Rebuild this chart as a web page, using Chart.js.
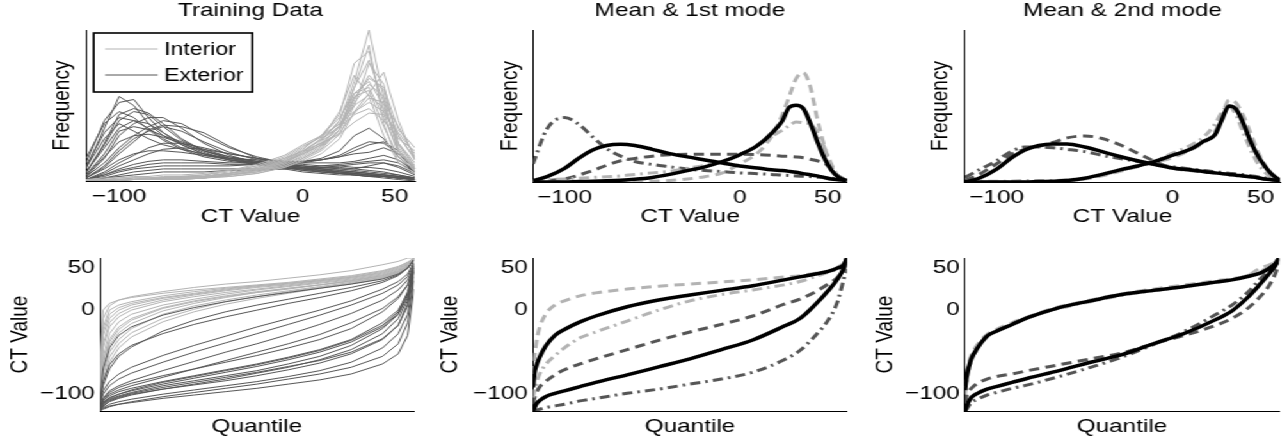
<!DOCTYPE html>
<html>
<head>
<meta charset="utf-8">
<script src="https://cdn.jsdelivr.net/npm/chart.js@4.4.0/dist/chart.umd.min.js"></script>
<style>
  html, body { margin: 0; padding: 0; background: #fff; overflow: hidden; }
  /* the original figure is stretched horizontally, so the whole page is drawn narrow and scaled */
  #figure { position: absolute; left: 0; top: 0; width: 1006px; height: 442px; transform: scaleX(1.28); transform-origin: 0 0; }
  #figure canvas { position: absolute; }
</style>
</head>
<body>
<div id="figure">
  <canvas id="trainHist" width="330" height="234" style="left:0;top:1px"></canvas>
  <canvas id="mode1Hist" width="333" height="234" style="left:335px;top:1px"></canvas>
  <canvas id="mode2Hist" width="333" height="234" style="left:673px;top:1px"></canvas>
  <canvas id="trainQuant" width="330" height="207" style="left:0;top:235px"></canvas>
  <canvas id="mode1Quant" width="333" height="207" style="left:335px;top:235px"></canvas>
  <canvas id="mode2Quant" width="333" height="207" style="left:673px;top:235px"></canvas>
</div>
<script>
// ---- data -------------------------------------------------------------
const ctTicks = [-100, 0, 50];
const legendLabels = ['Interior', 'Exterior'];

// training histograms (CT value bins, frequency in % of axis height)
const histBins = [-118, -108, -100, -92, -84, -76, -66, -54, -40, -25, -10, 0, 10, 20, 28, 36, 44, 52, 61];
const interiorHist = [
  [0, 0, 1, 1, 1, 1, 2, 2, 4, 7, 12, 18, 26, 40, 66, 100, 55, 20, 8],
  [0, 1, 1, 1, 2, 2, 2, 3, 5, 8, 14, 21, 30, 44, 78, 86, 45, 18, 6],
  [0, 0, 0, 1, 1, 1, 1, 2, 4, 6, 11, 16, 23, 34, 54, 70, 60, 25, 10],
  [0, 1, 1, 1, 1, 2, 2, 3, 5, 9, 15, 22, 30, 42, 58, 62, 42, 20, 9],
  [1, 1, 2, 2, 2, 3, 3, 4, 6, 10, 16, 23, 29, 38, 50, 57, 48, 25, 12],
  [0, 0, 1, 1, 1, 1, 2, 2, 4, 6, 10, 15, 21, 34, 62, 90, 38, 12, 5],
  [0, 1, 1, 1, 2, 2, 3, 4, 7, 11, 17, 24, 30, 38, 46, 52, 46, 30, 15],
  [0, 0, 1, 1, 1, 2, 2, 3, 5, 8, 13, 19, 25, 37, 58, 66, 50, 22, 8],
  [1, 2, 2, 3, 3, 4, 4, 5, 7, 10, 15, 20, 25, 31, 39, 45, 44, 32, 18],
  [0, 0, 0, 1, 1, 1, 1, 2, 3, 5, 9, 14, 20, 31, 50, 78, 64, 24, 9],
  [0, 1, 1, 1, 1, 2, 2, 3, 5, 8, 12, 18, 24, 36, 56, 60, 36, 16, 7],
  [0, 0, 1, 1, 1, 1, 2, 2, 4, 7, 12, 19, 28, 46, 70, 56, 30, 12, 5],
  [1, 1, 1, 2, 2, 2, 3, 3, 5, 8, 13, 20, 28, 36, 44, 48, 40, 28, 20],
  [0, 0, 1, 1, 1, 1, 2, 2, 4, 6, 10, 15, 22, 34, 52, 64, 56, 30, 14],
  [0, 1, 1, 1, 1, 2, 2, 3, 5, 8, 13, 18, 24, 32, 45, 55, 52, 36, 16],
  [0, 0, 0, 1, 1, 1, 1, 2, 3, 5, 9, 13, 18, 28, 46, 58, 72, 40, 14],
  [0, 0, 1, 1, 1, 2, 2, 3, 5, 9, 14, 20, 27, 40, 62, 80, 52, 20, 7],
  [1, 1, 1, 2, 2, 2, 3, 3, 4, 7, 11, 17, 24, 36, 55, 68, 62, 34, 22]
];
const exteriorHist = [
  [8, 35, 56, 50, 38, 30, 24, 18, 14, 11, 8, 6, 5, 4, 4, 3, 3, 2, 1],
  [12, 40, 52, 54, 42, 32, 25, 19, 14, 11, 9, 7, 6, 5, 4, 3, 3, 2, 1],
  [5, 25, 44, 48, 45, 38, 28, 20, 15, 12, 9, 7, 6, 5, 5, 4, 3, 2, 1],
  [3, 15, 30, 38, 42, 42, 35, 25, 17, 12, 9, 8, 7, 6, 6, 5, 4, 3, 2],
  [10, 32, 42, 40, 35, 28, 22, 17, 14, 12, 10, 9, 8, 7, 6, 5, 4, 3, 1],
  [2, 10, 20, 28, 33, 36, 33, 26, 19, 14, 10, 8, 7, 6, 5, 4, 4, 3, 2],
  [15, 38, 46, 42, 34, 27, 21, 16, 13, 11, 9, 8, 7, 6, 5, 4, 3, 2, 1],
  [4, 18, 33, 36, 34, 30, 26, 21, 16, 13, 11, 10, 9, 9, 8, 7, 6, 4, 2],
  [1, 6, 12, 17, 22, 25, 25, 22, 18, 15, 12, 11, 10, 10, 9, 9, 8, 6, 3],
  [6, 22, 35, 40, 38, 32, 24, 18, 14, 12, 10, 9, 8, 8, 8, 10, 12, 9, 4],
  [2, 8, 14, 18, 20, 20, 19, 17, 15, 14, 13, 13, 14, 17, 22, 26, 25, 18, 8],
  [1, 4, 8, 11, 13, 14, 14, 13, 12, 12, 12, 13, 15, 20, 30, 35, 28, 16, 6],
  [1, 3, 6, 8, 9, 10, 10, 10, 10, 11, 12, 13, 14, 16, 20, 24, 26, 20, 8],
  [0, 2, 4, 6, 7, 8, 8, 8, 8, 8, 8, 9, 10, 11, 12, 13, 14, 12, 6],
  [3, 12, 22, 30, 36, 40, 38, 30, 22, 16, 12, 10, 8, 6, 5, 4, 3, 2, 1],
  [9, 28, 38, 33, 28, 24, 21, 18, 15, 13, 11, 9, 7, 5, 4, 3, 2, 1, 0],
  [1, 5, 10, 14, 18, 21, 22, 21, 18, 15, 13, 12, 12, 12, 13, 15, 17, 14, 6],
  [0, 2, 3, 4, 5, 6, 6, 6, 7, 7, 8, 8, 9, 10, 11, 12, 12, 10, 5],
  [4, 16, 26, 30, 31, 29, 25, 20, 16, 13, 11, 10, 9, 8, 7, 6, 5, 4, 2],
  [2, 9, 18, 26, 34, 37, 36, 32, 23, 15, 11, 9, 8, 7, 6, 5, 4, 3, 1],
  [6, 24, 40, 46, 44, 36, 27, 20, 15, 12, 10, 8, 6, 5, 4, 4, 3, 2, 1],
  [1, 4, 7, 9, 11, 12, 12, 12, 11, 11, 11, 12, 14, 16, 18, 19, 22, 18, 8]
];

// mean and mode histograms
const modeBins = [-118, -110, -100, -92, -84, -76, -68, -60, -50, -40, -30, -20, -10, 0, 10, 18, 24, 28, 32, 36, 40, 44, 48, 52, 56, 61];
const m1ExtMean  = [1, 3.5, 9, 15.5, 21, 24, 24.8, 24, 21.5, 18.7, 16.5, 14.5, 12.5, 10.5, 9.2, 8, 7.5, 7, 6.4, 5.5, 4.8, 4, 3, 2, 1.5, 1];
const m1IntMean  = [0, 0, 0, 0.3, 0.5, 0.8, 1.2, 1.8, 3, 5, 7.5, 10, 13.5, 18, 24, 32, 40, 49, 50.5, 48.5, 39, 27, 16, 8, 3.3, 1];
const m1IntPlus  = [0, 0, 0, 0, 0, 0, 0, 0, 0.5, 1, 2, 3.5, 6, 12, 19, 30, 44, 56, 68, 72, 63, 42, 24, 11, 3.3, 1];
const m1IntMinus = [1, 1.5, 2, 2.5, 3, 3.5, 4, 5, 6, 7, 9, 11, 13.5, 18, 24.5, 30, 34, 37, 39.5, 39, 38, 33, 23, 12, 4, 1];
const m1ExtPlus  = [12, 35, 42.4, 38, 29.7, 22, 17, 13.5, 11.5, 10, 8.5, 7.5, 6.8, 6, 5.5, 5, 4.5, 4.3, 4, 3.8, 3.6, 3.2, 3, 2.5, 2, 1];
const m1ExtMinus = [0, 1, 2, 4.5, 7.5, 11, 14, 15.5, 17, 18, 18.2, 18.2, 18.2, 18.2, 18, 17.5, 17, 16.8, 16.5, 16, 15, 14, 12.5, 9, 4, 1];
const m2ExtMean  = [0, 2.5, 8.5, 15.5, 21, 24, 25, 25, 23, 20, 16.8, 14, 11.5, 9.2, 8, 6.8, 6, 5.5, 5, 4.4, 4, 3.4, 2.8, 2, 1.5, 1];
const m2IntMean  = [0, 0, 0, 0, 0, 0.3, 0.5, 1, 2.5, 5, 8, 10.5, 13.5, 17.6, 21.5, 27, 31, 41, 50, 48, 39, 27.5, 18, 11, 5.5, 1];
const m2IntPlus  = [0, 0, 0, 0, 0, 0, 0.3, 0.8, 2, 4, 7, 10, 13, 16, 21, 26, 33, 43, 54, 52, 44, 33, 21, 12, 5, 1];
const m2IntMinus = [0.5, 0.5, 0.5, 0.5, 1, 1, 1, 1.5, 2.5, 4.5, 7.5, 10.5, 14, 19, 24, 30, 38, 46, 50, 44, 33, 22, 13, 7, 3, 1];
const m2ExtPlus  = [1, 5, 12, 18, 21.5, 23.5, 26, 29, 30.3, 28.6, 24.5, 19, 13.5, 9, 7.5, 6.5, 6, 5.5, 5, 4.5, 4, 3.5, 3, 2, 1.5, 1];
const m2ExtMinus = [3, 8, 14, 20, 23, 23, 22.5, 21.5, 20, 17.5, 15.5, 13.5, 11.5, 10, 8.6, 7.5, 6.8, 6.3, 5.8, 5.2, 4.8, 4.2, 3.5, 2.8, 2, 1];

// training quantile curves (quantile -> CT value)
const trainQuantiles = [0, 0.01, 0.03, 0.06, 0.1, 0.2, 0.3, 0.4, 0.5, 0.6, 0.7, 0.8, 0.9, 0.95, 0.98, 1];
const interiorQuant = [
  [-60, 0, 8, 12, 15, 20, 24, 27, 30, 33, 37, 41, 47, 52, 57, 62],
  [-80, -20, 0, 6, 10, 17, 22, 26, 29, 32, 35, 39, 44, 49, 55, 62],
  [-95, -45, -20, -8, 0, 10, 16, 21, 25, 29, 33, 37, 42, 47, 54, 62],
  [-100, -60, -35, -20, -10, 3, 11, 17, 22, 26, 30, 35, 41, 46, 53, 62],
  [-105, -75, -50, -35, -22, -5, 5, 12, 18, 23, 28, 33, 39, 45, 52, 62],
  [-90, -30, -10, 0, 6, 14, 19, 24, 28, 31, 35, 39, 45, 50, 56, 62],
  [-110, -85, -62, -45, -32, -14, -2, 7, 14, 20, 26, 31, 38, 44, 51, 62],
  [-70, -10, 5, 12, 16, 22, 27, 31, 34, 38, 42, 47, 54, 58, 62, 62],
  [-98, -55, -28, -14, -5, 6, 13, 19, 24, 28, 32, 36, 41, 46, 53, 62],
  [-102, -68, -42, -27, -16, -1, 8, 15, 21, 25, 30, 35, 40, 45, 52, 62],
  [-85, -25, -5, 3, 8, 15, 20, 25, 29, 32, 36, 40, 46, 51, 57, 62],
  [-108, -80, -56, -40, -27, -10, 1, 10, 16, 22, 27, 32, 38, 44, 51, 62],
  [-92, -40, -15, -4, 3, 12, 18, 23, 27, 30, 34, 38, 43, 48, 55, 62],
  [-100, -62, -38, -23, -12, 2, 10, 16, 21, 26, 30, 34, 39, 45, 52, 62]
];
const exteriorQuant = [
  [-105, -70, -45, -30, -20, -6, 3, 10, 16, 21, 26, 31, 37, 43, 50, 60],
  [-110, -90, -70, -55, -44, -25, -12, -2, 6, 13, 20, 27, 35, 42, 50, 60],
  [-115, -100, -90, -82, -75, -62, -50, -39, -28, -17, -6, 6, 20, 30, 40, 55],
  [-118, -105, -96, -90, -84, -72, -61, -50, -40, -29, -17, -4, 12, 24, 36, 52],
  [-112, -96, -85, -76, -68, -54, -42, -31, -20, -10, 0, 11, 25, 34, 43, 58],
  [-119, -108, -100, -95, -90, -80, -70, -60, -50, -40, -29, -15, 2, 16, 30, 50],
  [-120, -115, -108, -104, -100, -94, -89, -84, -78, -71, -63, -52, -35, -18, 5, 45],
  [-120, -112, -106, -102, -98, -90, -84, -78, -72, -64, -55, -42, -22, -5, 15, 48],
  [-118, -110, -104, -100, -96, -88, -81, -74, -67, -59, -50, -38, -20, -4, 18, 50],
  [-120, -116, -112, -109, -106, -100, -95, -90, -85, -79, -72, -62, -45, -28, -5, 40],
  [-120, -117, -114, -112, -110, -105, -101, -97, -93, -88, -83, -76, -64, -52, -30, 25],
  [-117, -108, -102, -97, -93, -85, -78, -71, -64, -56, -47, -35, -15, 0, 20, 52],
  [-120, -114, -109, -105, -101, -94, -88, -82, -75, -68, -59, -47, -28, -10, 12, 46],
  [-119, -111, -105, -100, -95, -86, -79, -72, -65, -57, -48, -36, -18, -2, 22, 54],
  [-120, -118, -115, -112, -109, -103, -98, -93, -88, -82, -76, -68, -55, -40, -15, 35],
  [-116, -106, -98, -92, -87, -78, -70, -62, -54, -45, -35, -22, -2, 14, 30, 56],
  [-120, -113, -107, -103, -99, -92, -86, -80, -74, -67, -60, -50, -34, -18, 8, 47],
  [-110, -85, -65, -52, -42, -28, -17, -8, 0, 8, 15, 23, 33, 41, 50, 60]
];

// mean and mode quantile curves
const modeQuantiles = [0, 0.005, 0.01, 0.02, 0.04, 0.07, 0.1, 0.15, 0.2, 0.3, 0.4, 0.5, 0.6, 0.7, 0.8, 0.85, 0.9, 0.94, 0.97, 0.99, 1];
const q1IntMean  = [-92, -74, -67, -57, -43, -30, -23, -14, -7, 4, 12, 18, 23.5, 29, 36, 39.5, 43, 46, 50, 54, 62];
const q1ExtMean  = [-120, -116, -112, -108, -103, -99, -96, -91, -86, -77, -67.5, -58, -47, -35.5, -19, -10, 7, 23, 37, 50, 62];
const q1IntPlus  = [-76, -55, -40, -22, -5, 6, 11, 17, 20.5, 25, 28.5, 31, 33.5, 36, 39.5, 41, 44, 46, 51, 56, 62];
const q1IntMinus = [-104, -95, -88, -77, -65, -54, -45, -33, -26, -13, 0, 11, 18.5, 24, 30, 34, 40, 45, 49, 54, 62];
const q1ExtPlus  = [-112, -104, -99, -92, -85, -77, -71, -64, -58, -47, -36, -26, -17, -7, 7, 13, 22, 31, 39, 48, 57];
const q1ExtMinus = [-120, -120, -119, -118, -116, -114, -112, -108, -105, -99, -94, -88, -82, -74, -59, -48, -30, -12, 10, 37, 49];
const q2IntMean  = [-95, -80, -71, -58, -45, -31, -25, -17, -9, 3, 11, 18.5, 23.5, 28, 33.5, 36, 40, 44, 50, 56, 62];
const q2IntPlus  = [-92, -75, -66, -54, -41, -29, -23, -15, -8, 4, 12, 19.5, 25, 30, 35, 37.5, 41, 50, 54, 58, 62];
const q2IntMinus = [-100, -84, -74, -60, -46, -32, -25, -17, -9, 2, 10, 17.5, 23, 28, 33, 36.5, 41, 46, 52, 58, 62];
const q2ExtMean  = [-120, -114, -110, -104, -99, -94, -91, -86, -81, -72, -62, -53, -40, -27.5, -11, -1, 15, 31, 44, 54, 62];
const q2ExtPlus  = [-110, -102, -98, -93, -87, -82, -79, -76, -72, -65, -58, -51, -40, -30, -18, -10, 2, 16, 30, 45, 57];
const q2ExtMinus = [-120, -118, -115, -110, -106, -101, -98, -93, -89, -79, -68, -56, -41, -25, -5, 6, 21, 37, 48, 56, 62];

// ---- styling ----------------------------------------------------------
const FONT = "'Liberation Sans', Arial, Helvetica, sans-serif";
const BLACK = '#000000';
const LIGHT = '#b3b3b3';
const DARK = '#555555';
const DASH = [8, 5];
const DASHDOT = [8, 4, 2, 4];

function fmtTick(v) {
  return v < 0 ? '\u2212' + Math.abs(v) : String(v);
}

function curve(xs, ys, color, width, dash, smooth) {
  return {
    data: xs.map((x, i) => ({ x: x, y: ys[i] })),
    borderColor: color,
    borderWidth: width,
    borderDash: dash || [],
    pointRadius: 0,
    fill: false,
    tension: smooth ? 0.3 : 0,
    cubicInterpolationMode: smooth ? 'monotone' : 'default'
  };
}

function thinSet(xs, rows, color) {
  return rows.map(r => curve(xs, r, color, 1));
}

function meanSet(xs, s) {
  return [
    curve(xs, s.extMean, BLACK, 3.5, null, true),
    curve(xs, s.intMean, BLACK, 3.5, null, true),
    curve(xs, s.intPlus, LIGHT, 3, DASH, true),
    curve(xs, s.intMinus, LIGHT, 3, DASHDOT, true),
    curve(xs, s.extPlus, DARK, 3, s.extPlusDash, true),
    curve(xs, s.extMinus, DARK, 3, s.extMinusDash, true)
  ];
}

const legendBox = {
  id: 'legendBox',
  afterDraw(chart) {
    const { ctx, chartArea } = chart;
    const x0 = chartArea.left + 6, y0 = chartArea.top + 3;
    ctx.save();
    ctx.fillStyle = '#fff';
    ctx.fillRect(x0, y0, 124, 59);
    ctx.strokeStyle = '#000';
    ctx.lineWidth = 1.6;
    ctx.strokeRect(x0, y0, 124, 59);
    ctx.font = '18px ' + FONT;
    ctx.textBaseline = 'middle';
    [LIGHT, DARK].forEach((c, i) => {
      const y = y0 + 16 + i * 26;
      ctx.strokeStyle = c;
      ctx.lineWidth = 1;
      ctx.beginPath();
      ctx.moveTo(x0 + 9, y);
      ctx.lineTo(x0 + 50, y);
      ctx.stroke();
      ctx.fillStyle = '#000';
      ctx.fillText(legendLabels[i], x0 + 55, y + 1);
    });
    ctx.restore();
  }
};

function panel(id, p) {
  const font = { family: FONT, size: 19, weight: 'normal', lineHeight: 1 };
  const axis = (min, max, ticks, size, title, titlePad, isX) => {
    const s = {
      type: 'linear', min: min, max: max,
      grid: { display: false, drawTicks: false },
      border: { display: true, color: '#000', width: 1 },
      ticks: { display: !!ticks, color: '#000', font: font, padding: isX ? 6 : 4,
               maxRotation: 0, autoSkip: false, callback: fmtTick },
      title: { display: true, text: title, color: '#000', font: font, padding: titlePad }
    };
    if (ticks) s.afterBuildTicks = sc => { sc.ticks = ticks.map(v => ({ value: v })); };
    s.afterFit = sc => { if (isX) sc.height = size; else sc.width = size; };
    return s;
  };
  return new Chart(document.getElementById(id), {
    type: 'line',
    data: { datasets: p.datasets },
    options: {
      responsive: false,
      animation: false,
      events: [],
      layout: { padding: { left: 0, top: p.padTop, right: p.padRight, bottom: 0 } },
      plugins: {
        legend: { display: false },
        tooltip: { enabled: false },
        title: {
          display: !!p.title, text: p.title || '', color: '#000', font: font,
          fullSize: false,               // centre over the plot, not the canvas
          padding: { top: 0, bottom: 10 }
        }
      },
      scales: {
        x: axis(p.xMin, p.xMax, p.xTicks, p.xHeight, p.xTitle, { top: 0, bottom: p.xTitlePad }, true),
        y: axis(p.yMin, p.yMax, p.yTicks, p.yWidth, p.yTitle, { top: p.yTitlePad, bottom: 0 }, false)
      }
    },
    plugins: p.plugins || []
  });
}

// ---- top row: histograms ----------------------------------------------
const histAxes = { xMin: -118, xMax: 61, xTicks: ctTicks, xTitle: 'CT Value', xTitlePad: 8.5,
                   yMin: 0, yMax: 100, yTitle: 'Frequency', padTop: 0 };

panel('trainHist', Object.assign({}, histAxes, {
  title: 'Training Data', xHeight: 54, yWidth: 67.2, yTitlePad: 39.7, padRight: 5.8,
  datasets: thinSet(histBins, interiorHist, LIGHT).concat(thinSet(histBins, exteriorHist, DARK)),
  plugins: [legendBox]
}));

panel('mode1Hist', Object.assign({}, histAxes, {
  title: 'Mean & 1st mode', xHeight: 53, yWidth: 81.4, yTitlePad: 53.9, padRight: 6.3,
  datasets: meanSet(modeBins, { extMean: m1ExtMean, intMean: m1IntMean, intPlus: m1IntPlus, intMinus: m1IntMinus,
    extPlus: m1ExtPlus, extMinus: m1ExtMinus, extPlusDash: DASHDOT, extMinusDash: DASH })
}));

panel('mode2Hist', Object.assign({}, histAxes, {
  title: 'Mean & 2nd mode', xHeight: 53, yWidth: 80.9, yTitlePad: 52.7, padRight: 6,
  datasets: meanSet(modeBins, { extMean: m2ExtMean, intMean: m2IntMean, intPlus: m2IntPlus, intMinus: m2IntMinus,
    extPlus: m2ExtPlus, extMinus: m2ExtMinus, extPlusDash: DASH, extMinusDash: DASHDOT })
}));

// ---- bottom row: quantile functions -----------------------------------
const quantAxes = { xMin: 0, xMax: 1, xTicks: null, xTitle: 'Quantile', xTitlePad: 5.5,
                    yMin: -120, yMax: 62, yTicks: ctTicks, yTitle: 'CT Value', padTop: 23, xHeight: 31 };

panel('trainQuant', Object.assign({}, quantAxes, {
  yWidth: 78.1, yTitlePad: 6.1, padRight: 6.6,
  datasets: thinSet(trainQuantiles, exteriorQuant, DARK).concat(thinSet(trainQuantiles, interiorQuant, LIGHT))
}));

panel('mode1Quant', Object.assign({}, quantAxes, {
  yWidth: 81.4, yTitlePad: 7.1, padRight: 6.3,
  datasets: meanSet(modeQuantiles, { extMean: q1ExtMean, intMean: q1IntMean, intPlus: q1IntPlus, intMinus: q1IntMinus,
    extPlus: q1ExtPlus, extMinus: q1ExtMinus, extPlusDash: DASH, extMinusDash: DASHDOT })
}));

panel('mode2Quant', Object.assign({}, quantAxes, {
  yWidth: 80.9, yTitlePad: 8.9, padRight: 6.8,
  datasets: meanSet(modeQuantiles, { extMean: q2ExtMean, intMean: q2IntMean, intPlus: q2IntPlus, intMinus: q2IntMinus,
    extPlus: q2ExtPlus, extMinus: q2ExtMinus, extPlusDash: DASH, extMinusDash: DASHDOT })
}));
</script>
</body>
</html>
